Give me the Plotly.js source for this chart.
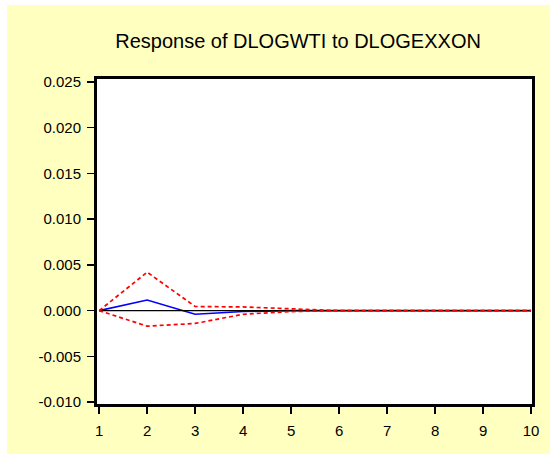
<!DOCTYPE html>
<html>
<head>
<meta charset="utf-8">
<script src="https://cdn.plot.ly/plotly-3.0.1.min.js"></script>
<style>
  html, body { margin: 0; padding: 0; background: #ffffff; width: 550px; height: 454px; overflow: hidden; }
  #chart { position: absolute; left: 7px; top: 5px; width: 543px; height: 449px; }
</style>
</head>
<body>
<div id="chart"></div>
<script>
const periods = [1, 2, 3, 4, 5, 6, 7, 8, 9, 10];
const response = [0.0000, 0.00115, -0.0004, -0.0001, 0.0000, 0.0000, 0.0000, 0.0000, 0.0000, 0.0000];
const upperBand = [0.0000, 0.0042, 0.00045, 0.0004, 0.0002, 0.0000, 0.0000, 0.0000, 0.0000, 0.0000];
const lowerBand = [0.0000, -0.0017, -0.0014, -0.0004, -0.0001, 0.0000, 0.0000, 0.0000, 0.0000, 0.0000];
const yTicks = [-0.010, -0.005, 0.000, 0.005, 0.010, 0.015, 0.020, 0.025];
const yTickLabels = ["-0.010", "-0.005", "0.000", "0.005", "0.010", "0.015", "0.020", "0.025"];
const xTicks = [1, 2, 3, 4, 5, 6, 7, 8, 9, 10];

const zeroLine = {
  x: [periods[0], periods[periods.length - 1]], y: [0, 0],
  mode: 'lines', line: {color: '#000000', width: 1.2}, hoverinfo: 'skip', showlegend: false
};
const traces = [
  {x: periods, y: response, mode: 'lines', line: {color: '#0000ff', width: 1.6}, showlegend: false},
  zeroLine,
  {x: periods, y: upperBand, mode: 'lines', line: {color: '#ff0000', width: 1.7, dash: '4px,3px'}, showlegend: false},
  {x: periods, y: lowerBand, mode: 'lines', line: {color: '#ff0000', width: 1.7, dash: '4px,3px'}, showlegend: false}
];

const layout = {
  width: 543, height: 449,
  paper_bgcolor: '#ffffc0',
  plot_bgcolor: '#ffffff',
  margin: {l: 90, r: 18, t: 74, b: 50},
  font: {family: 'Liberation Sans, Arial, sans-serif', color: '#000000'},
  title: {
    text: 'Response of DLOGWTI to DLOGEXXON',
    font: {size: 20, family: 'Liberation Sans, Arial, sans-serif', color: '#000000'},
    xref: 'container', x: 0.536, xanchor: 'center',
    yref: 'container', y: 0.92, yanchor: 'middle'
  },
  xaxis: {
    range: [0.955, 10.02],
    tickvals: xTicks,
    ticktext: xTicks.map(String),
    ticks: 'outside', ticklen: 7, tickwidth: 1.5, tickcolor: '#000000',
    showline: true, linecolor: '#000000', linewidth: 3, mirror: true,
    showgrid: false, zeroline: false,
    tickfont: {size: 15},
    ticklabelstandoff: 4
  },
  yaxis: {
    range: [-0.0102, 0.0253],
    tickvals: yTicks,
    ticktext: yTickLabels,
    ticks: 'outside', ticklen: 7, tickwidth: 1.5, tickcolor: '#000000',
    showline: true, linecolor: '#000000', linewidth: 3, mirror: true,
    showgrid: false, zeroline: false,
    tickfont: {size: 15},
    ticklabelstandoff: 3
  }
};

Plotly.newPlot('chart', traces, layout, {displayModeBar: false, staticPlot: true});
</script>
</body>
</html>
